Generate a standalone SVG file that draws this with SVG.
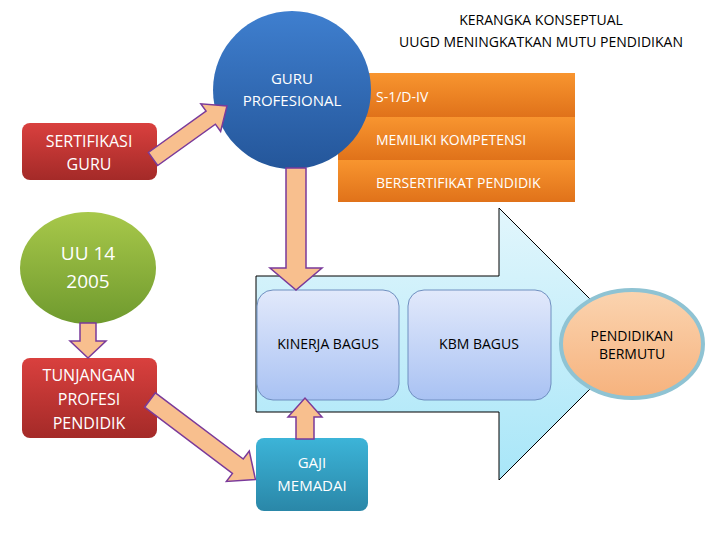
<svg xmlns="http://www.w3.org/2000/svg" width="720" height="540" viewBox="0 0 720 540">
<defs>
<linearGradient id="gBlue" x1="0" y1="0" x2="0" y2="1"><stop offset="0" stop-color="#3f7fcf"/><stop offset="1" stop-color="#24569a"/></linearGradient>
<linearGradient id="gRed" x1="0" y1="0" x2="0" y2="1"><stop offset="0" stop-color="#d9403e"/><stop offset="1" stop-color="#a42a28"/></linearGradient>
<linearGradient id="gGreen" x1="0" y1="0" x2="0" y2="1"><stop offset="0" stop-color="#a8c84a"/><stop offset="1" stop-color="#6f9a2e"/></linearGradient>
<linearGradient id="gTeal" x1="0" y1="0" x2="0" y2="1"><stop offset="0" stop-color="#3cb4d8"/><stop offset="1" stop-color="#2a87a8"/></linearGradient>
<linearGradient id="gOr" x1="0" y1="0" x2="0" y2="1"><stop offset="0" stop-color="#f8952f"/><stop offset="1" stop-color="#e0721a"/></linearGradient>
<linearGradient id="gSoft" x1="0" y1="0" x2="0" y2="1"><stop offset="0" stop-color="#e2e9fb"/><stop offset="1" stop-color="#a9c2f3"/></linearGradient>
<linearGradient id="gBig" x1="0" y1="0" x2="0" y2="1"><stop offset="0" stop-color="#e2f6fc"/><stop offset="1" stop-color="#a8e6f8"/></linearGradient>
<linearGradient id="gPeach" x1="0" y1="0" x2="0" y2="1"><stop offset="0" stop-color="#fbd4b0"/><stop offset="1" stop-color="#f6b27d"/></linearGradient>
<style>
.w{font-family:"Open Sans","Liberation Sans",sans-serif;fill:#fff;text-anchor:middle}
.k{font-family:"Open Sans","Liberation Sans",sans-serif;fill:#000;text-anchor:middle}
.arr{fill:#f8bf8e;stroke:#7a3a9a;stroke-width:1.5}
</style>
</defs>
<g id="title">
<text class="k" x="541" y="25" font-size="14">KERANGKA KONSEPTUAL</text>
<text class="k" x="541" y="47" font-size="14">UUGD MENINGKATKAN MUTU PENDIDIKAN</text>
</g>
<g id="bigarrow">
<polygon points="256,276 499,276 499,208 635,344 499,480 499,412 256,412" fill="url(#gBig)" stroke="#000" stroke-width="1"/>
</g>
<g id="quals">
<rect x="338" y="73" width="237" height="44" fill="url(#gOr)"/>
<rect x="338" y="117" width="237" height="43" fill="url(#gOr)"/>
<rect x="338" y="160" width="237" height="42" fill="url(#gOr)"/>
<text class="w" x="376" y="102" font-size="14" style="text-anchor:start">S-1/D-IV</text>
<text class="w" x="376" y="145" font-size="14" style="text-anchor:start">MEMILIKI KOMPETENSI</text>
<text class="w" x="376" y="188" font-size="14" style="text-anchor:start">BERSERTIFIKAT PENDIDIK</text>
</g>
<g id="guru">
<circle cx="292" cy="90" r="79" fill="url(#gBlue)"/>
<text class="w" x="292" y="84" font-size="15">GURU</text>
<text class="w" x="292" y="106" font-size="15">PROFESIONAL</text>
</g>
<g id="sertifikasi">
<rect x="22" y="123" width="135" height="57" rx="8" fill="url(#gRed)"/>
<text class="w" x="89" y="147" font-size="16">SERTIFIKASI</text>
<text class="w" x="89" y="170" font-size="16">GURU</text>
</g>
<g id="uu">
<ellipse cx="88" cy="268" rx="68" ry="56" fill="url(#gGreen)"/>
<text class="w" x="88" y="260" font-size="19">UU 14</text>
<text class="w" x="88" y="288" font-size="19">2005</text>
</g>
<g id="tunjangan">
<rect x="22" y="358" width="135" height="80" rx="8" fill="url(#gRed)"/>
<text class="w" x="89" y="381" font-size="16">TUNJANGAN</text>
<text class="w" x="89" y="405" font-size="16">PROFESI</text>
<text class="w" x="89" y="429" font-size="16">PENDIDIK</text>
</g>
<g id="kinerja">
<rect x="257" y="290" width="142" height="110" rx="16" fill="url(#gSoft)" stroke="#6f8fc0" stroke-width="1"/>
<text class="k" x="328" y="349" font-size="14">KINERJA BAGUS</text>
</g>
<g id="kbm">
<rect x="408" y="290" width="143" height="110" rx="16" fill="url(#gSoft)" stroke="#6f8fc0" stroke-width="1"/>
<text class="k" x="479" y="349" font-size="14">KBM BAGUS</text>
</g>
<g id="pendidikan">
<ellipse cx="632" cy="344" rx="71" ry="54" fill="url(#gPeach)" stroke="#8fc3d3" stroke-width="4"/>
<text class="k" x="632" y="341" font-size="14">PENDIDIKAN</text>
<text class="k" x="632" y="359" font-size="14">BERMUTU</text>
</g>
<g id="gaji">
<rect x="256" y="438" width="112" height="73" rx="8" fill="url(#gTeal)"/>
<text class="w" x="312" y="468" font-size="15">GAJI</text>
<text class="w" x="312" y="491" font-size="15">MEMADAI</text>
</g>
<g id="connectors">
<polygon class="arr" transform="translate(153,159) rotate(-35.6)" points="0,-8 71,-8 71,-17 91,0 71,17 71,8 0,8"/>
<polygon class="arr" transform="translate(296,168) rotate(90)" points="0,-10 100,-10 100,-26 122,0 100,26 100,10 0,10"/>
<polygon class="arr" transform="translate(88,323) rotate(90)" points="0,-8 18,-8 18,-18 35,0 18,18 18,8 0,8"/>
<polygon class="arr" transform="translate(150,400) rotate(37)" points="0,-9 110,-9 110,-19 132,0 110,19 110,9 0,9"/>
<polygon class="arr" transform="translate(305,439) rotate(-90)" points="0,-9 22,-9 22,-17 41,0 22,17 22,9 0,9"/>
</g>
</svg>
